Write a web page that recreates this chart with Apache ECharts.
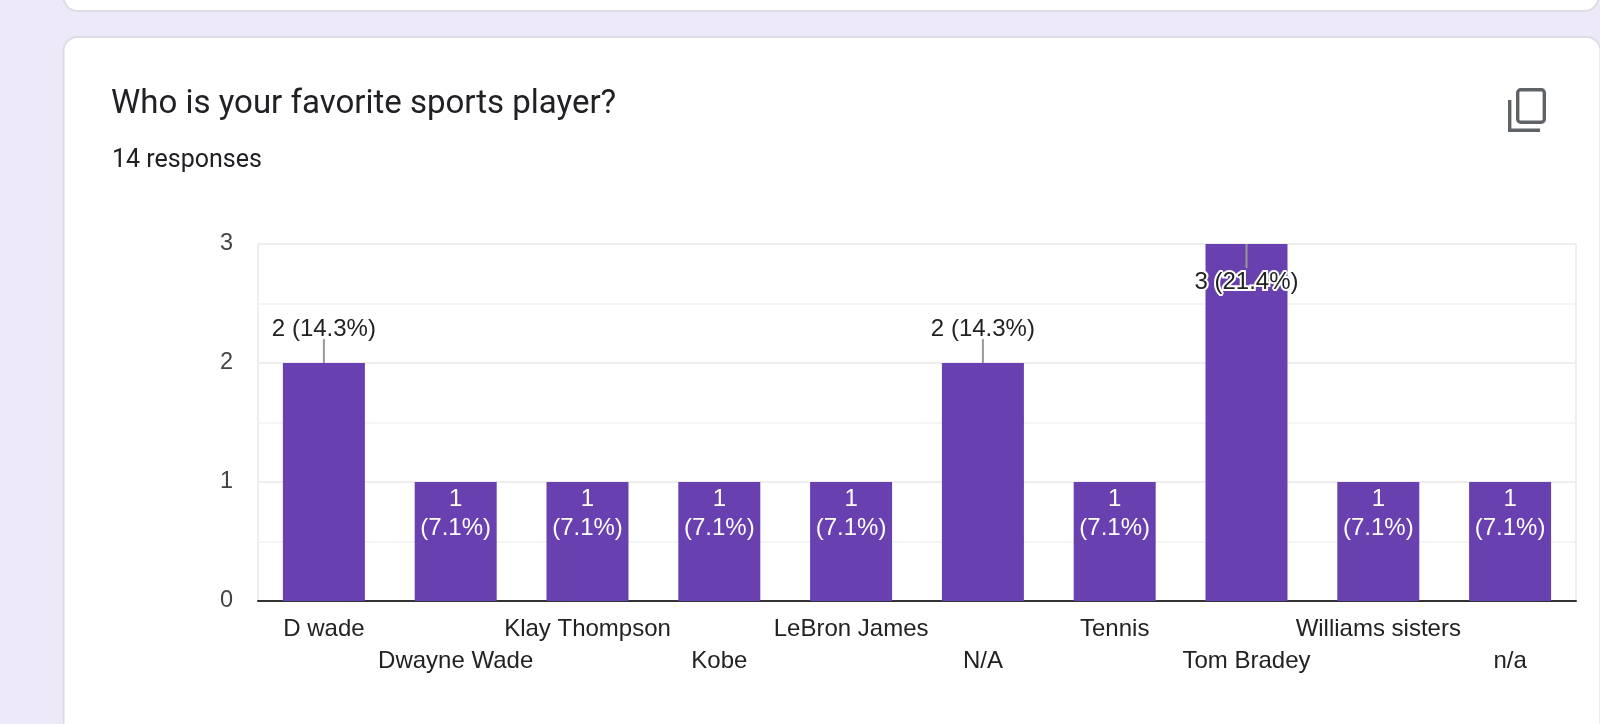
<!DOCTYPE html>
<html>
<head>
<meta charset="utf-8">
<style>
  html, body { margin: 0; padding: 0; background: #ede9f8; }
  #main { width: 1600px; height: 724px; }
</style>
<script src="https://cdn.jsdelivr.net/npm/echarts@6/dist/echarts.min.js"></script>
</head>
<body>
<div id="main"></div>
<script>
var categories = ['D wade', 'Dwayne Wade', 'Klay Thompson', 'Kobe', 'LeBron James', 'N/A', 'Tennis', 'Tom Bradey', 'Williams sisters', 'n/a'];
var counts = [2, 1, 1, 1, 1, 2, 1, 3, 1, 1];
var percents = ['14.3', '7.1', '7.1', '7.1', '7.1', '14.3', '7.1', '21.4', '7.1', '7.1'];
var yTicks = [0, 1, 2, 3];

var font = '"Liberation Sans", Arial, sans-serif';
var purple = '#6840b0';

// label sits differently by value, same as the forms summary chart
function labelFor(v, i) {
  if (v == 1) {
    return { show: true, position: 'insideTop', distance: 3, color: '#ffffff', lineHeight: 29,
      formatter: v + '\n(' + percents[i] + '%)' };
  }
  if (v == 2) {
    return { show: true, position: 'top', distance: 22, color: '#222222',
      formatter: v + ' (' + percents[i] + '%)' };
  }
  return { show: true, position: 'insideTop', distance: 26, color: '#222222',
    textBorderColor: '#ffffff', textBorderWidth: 4,
    formatter: v + ' (' + percents[i] + '%)' };
}

var barData = counts.map(function (v, i) {
  return { value: v, label: labelFor(v, i) };
});
// leader lines only for the labels not sitting inside the short bars
var leaderData = [];
counts.forEach(function (v, i) {
  if (v > 1) leaderData.push([i, v]);
});

var chart = echarts.init(document.getElementById('main'), null, { renderer: 'canvas' });
var option = {
  animation: false,
  backgroundColor: '#ede9f8',
  textStyle: { fontFamily: font },
  graphic: [
    { type: 'rect', z: -10, shape: { x: 63.5, y: -30, width: 1535, height: 41, r: 14 },
      style: { fill: '#ffffff', stroke: '#dcdce4', lineWidth: 2 } },
    { type: 'rect', z: -10, shape: { x: 63.5, y: 37, width: 1537, height: 740, r: 14 },
      style: { fill: '#ffffff', stroke: '#dcdce4', lineWidth: 2 } },
    { type: 'text', left: 111, top: 88, style: { text: 'Who is your favorite sports player?',
      font: '400 33px Roboto, sans-serif', fill: '#202124' } },
    { type: 'text', left: 112, top: 148, style: { text: '14 responses',
      font: '400 25px Roboto, sans-serif', fill: '#202124' } },
    { type: 'group', position: [1508, 88], children: [
      { type: 'rect', shape: { x: 9.7, y: 1.7, width: 26.6, height: 32.6, r: 3 },
        style: { fill: 'none', stroke: '#5f6368', lineWidth: 3.4 } },
      { type: 'polyline', shape: { points: [[1.7, 12], [1.7, 42.3], [32, 42.3]] },
        style: { fill: 'none', stroke: '#5f6368', lineWidth: 3.4 } }
    ] }
  ],
  grid: { left: 258, right: 24, top: 244, bottom: 123 },
  xAxis: {
    type: 'category',
    data: categories,
    axisTick: { show: false },
    axisLine: { lineStyle: { color: '#333333', width: 2 } },
    axisLabel: {
      interval: 0, color: '#222222', fontSize: 24, lineHeight: 32, margin: 12,
      formatter: function (v, i) { return i % 2 ? '\n' + v : v; }
    }
  },
  yAxis: [
    {
      type: 'value', min: 0, max: yTicks[yTicks.length - 1], interval: 1,
      axisLine: { show: true, lineStyle: { color: '#eeeeee', width: 2 } },
      axisTick: { show: false },
      axisLabel: { color: '#444444', fontSize: 23.5, margin: 25, padding: [8, 0, 0, 0] },
      splitLine: { lineStyle: { color: '#eeeeee', width: 2 } },
      minorTick: { show: false, splitNumber: 2 },
      minorSplitLine: { show: true, lineStyle: { color: '#f5f5f5', width: 2 } }
    },
    {
      // just the light border on the right side
      type: 'value', position: 'right', min: 0, max: yTicks[yTicks.length - 1], interval: 1,
      axisLine: { show: true, lineStyle: { color: '#eeeeee', width: 2 } },
      axisTick: { show: false },
      axisLabel: { show: false },
      splitLine: { show: false }
    }
  ],
  series: [
    {
      type: 'bar',
      data: barData,
      barWidth: 82,
      itemStyle: { color: purple },
      label: { fontSize: 24, fontFamily: font }
    },
    {
      type: 'custom',
      data: leaderData,
      silent: true,
      z: 5,
      renderItem: function (params, api) {
        var p = api.coord([api.value(0), api.value(1)]);
        var len = 24;
        var y2 = api.value(1) == 2 ? p[1] - len : p[1] + len;
        return { type: 'line', shape: { x1: p[0], y1: p[1], x2: p[0], y2: y2 },
          style: { stroke: '#999999', lineWidth: 2 } };
      }
    }
  ]
};
chart.setOption(option);
</script>
</body>
</html>
